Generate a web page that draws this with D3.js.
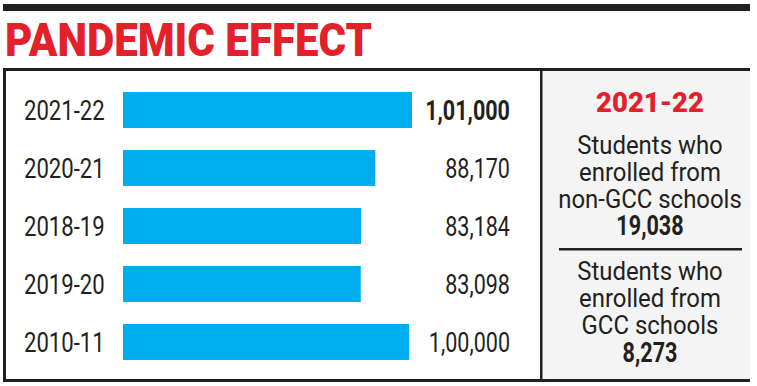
<!DOCTYPE html>
<html>
<head>
<meta charset="utf-8">
<script src="https://cdn.jsdelivr.net/npm/d3@7"></script>
<style>
  body { margin: 0; background: #fff; }
  svg { display: block; }
  .cond { font-family: Roboto, "Liberation Sans", sans-serif; }
</style>
</head>
<body>
<div class="main"></div>
<script>
// chart data
let years = ['2021-22', '2020-21', '2018-19', '2019-20', '2010-11'];
let students = [101000, 88170, 83184, 83098, 100000];
let highlightYear = '2021-22';

let panelYear = '2021-22';
let noteLines = [
  ['Students who', 'enrolled from', 'non-GCC schools'],
  ['Students who', 'enrolled from', 'GCC schools']
];
let noteValues = [19038, 8273];

let opts = {
  width: 757,
  height: 386,
  red: '#e3212b',
  blue: '#00adee',
  ink: '#231f20'
};

// indian digit grouping: 1,01,000
let inFormat = n => {
  let s = String(n);
  if (s.length <= 3) return s;
  let last = s.slice(-3);
  let rest = s.slice(0, -3).replace(/\B(?=(\d{2})+(?!\d))/g, ',');
  return rest + ',' + last;
};

// the print font is condensed, so squash the rendered text horizontally
let squeeze = (sel, k) => {
  sel.each(function() {
    let w = this.getComputedTextLength();
    d3.select(this).attr('textLength', w * k).attr('lengthAdjust', 'spacingAndGlyphs');
  });
};

let svg = d3.select('.main').append('svg')
  .attr('width', opts.width)
  .attr('height', opts.height);

// top rule + title
svg.append('rect').attr('x', 3).attr('y', 4).attr('width', 747).attr('height', 7).attr('fill', opts.ink);
svg.append('text')
  .attr('x', 5).attr('y', 56)
  .attr('font-family', 'Roboto, "Liberation Sans", sans-serif')
  .attr('font-weight', 900)
  .attr('font-size', 46)
  .attr('textLength', 367)
  .attr('lengthAdjust', 'spacingAndGlyphs')
  .attr('fill', opts.red)
  .text('PANDEMIC EFFECT');

// side panel background
svg.append('rect').attr('x', 542).attr('y', 70).attr('width', 208).attr('height', 310).attr('fill', '#f4f4f4');

// frame
svg.append('rect').attr('x', 3).attr('y', 68).attr('width', 747).attr('height', 3).attr('fill', opts.ink);
svg.append('rect').attr('x', 3).attr('y', 379).attr('width', 747).attr('height', 3).attr('fill', opts.ink);
svg.append('rect').attr('x', 3).attr('y', 68).attr('width', 3).attr('height', 314).attr('fill', opts.ink);
svg.append('rect').attr('x', 540).attr('y', 68).attr('width', 2.5).attr('height', 314).attr('fill', opts.ink);

// scales
let x = d3.scaleLinear().domain([0, 101000]).range([123, 412]);
let y = d3.scaleBand().domain(years).range([70, 382]).paddingInner(0.38).paddingOuter(0.38);

let rows = years.map((yr, i) => ({ year: yr, value: students[i] }));

let row = svg.selectAll('.row').data(rows).enter().append('g').attr('class', 'row');

row.append('rect')
  .attr('x', x(0))
  .attr('y', d => y(d.year))
  .attr('width', d => x(d.value) - x(0))
  .attr('height', y.bandwidth())
  .attr('fill', opts.blue);

row.append('text')
  .attr('class', 'cond')
  .attr('x', 24)
  .attr('y', d => y(d.year) + y.bandwidth() / 2 + 10)
  .attr('font-size', 28)
  .attr('fill', opts.ink)
  .text(d => d.year)
  .call(squeeze, 0.79);

row.append('text')
  .attr('class', 'cond')
  .attr('x', 510)
  .attr('y', d => y(d.year) + y.bandwidth() / 2 + 10)
  .attr('text-anchor', 'end')
  .attr('font-size', 28)
  .attr('font-weight', d => d.year === highlightYear ? 'bold' : 'normal')
  .attr('fill', opts.ink)
  .text(d => inFormat(d.value))
  .call(squeeze, 0.77);

// side panel text
let cx = 650;
svg.append('text')
  .attr('class', 'cond')
  .attr('x', cx).attr('y', 112)
  .attr('text-anchor', 'middle')
  .attr('font-size', 28)
  .attr('font-weight', 900)
  .attr('fill', opts.red)
  .text(panelYear)
  .call(squeeze, 0.98);

let blockBase = [153.5, 280];
let lineGap = 27;
noteLines.forEach((lines, b) => {
  lines.forEach((ln, i) => {
    svg.append('text')
      .attr('class', 'cond')
      .attr('x', cx).attr('y', blockBase[b] + i * lineGap)
      .attr('text-anchor', 'middle')
      .attr('font-size', 26)
      .attr('fill', opts.ink)
      .text(ln)
      .call(squeeze, 0.92);
  });
  svg.append('text')
    .attr('class', 'cond')
    .attr('x', cx).attr('y', blockBase[b] + lines.length * lineGap + 0.5)
    .attr('text-anchor', 'middle')
    .attr('font-size', 27)
    .attr('font-weight', 'bold')
    .attr('fill', opts.ink)
    .text(inFormat(noteValues[b]))
    .call(squeeze, 0.8);
});

svg.append('rect').attr('x', 559).attr('y', 248).attr('width', 183).attr('height', 2.5).attr('fill', opts.ink);
</script>
</body>
</html>
